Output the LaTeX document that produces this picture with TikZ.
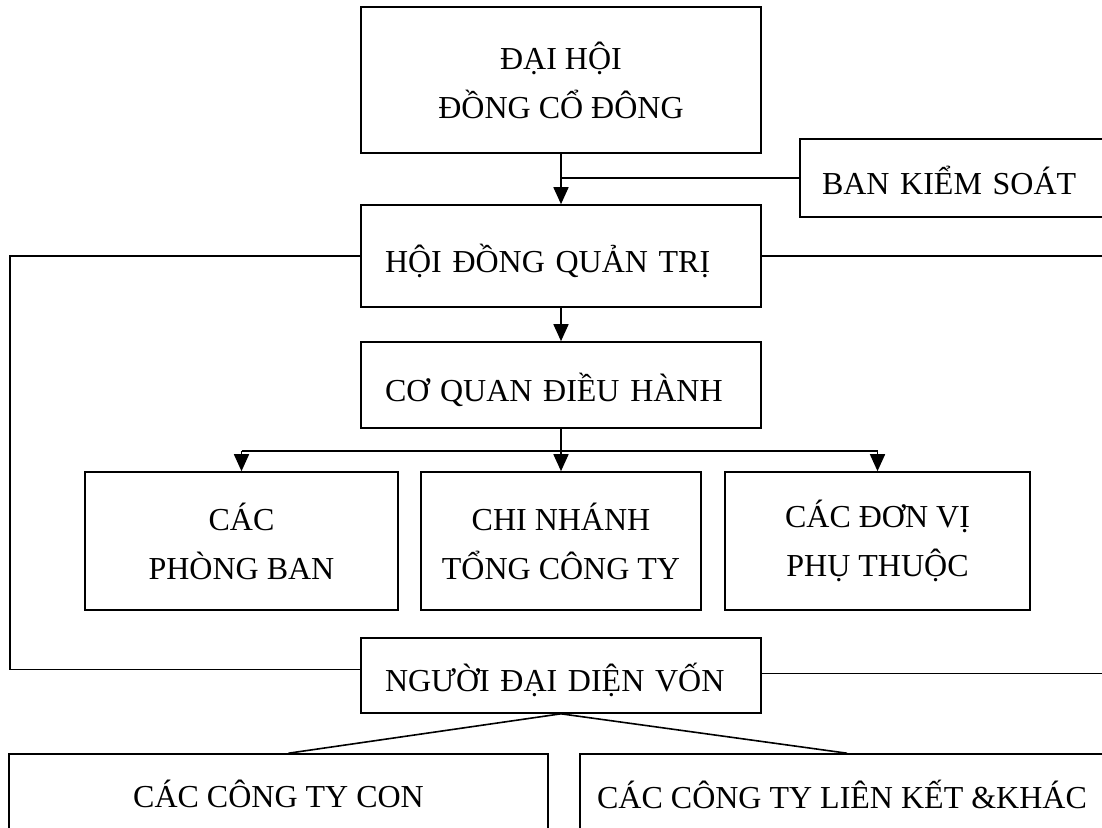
\documentclass[tikz,border=0pt]{standalone}
\usepackage{fontspec}
\setmainfont{Liberation Serif}
\usetikzlibrary{arrows.meta, positioning, calc}

\begin{document}
\begin{tikzpicture}[
    x=1pt, y=-1pt,
    font=\fontsize{32}{49}\selectfont,
    box/.style n args={2}{
        rectangle, draw, line width=1.6pt,
        minimum width=#1, minimum height=#2,
        inner sep=0pt, align=center
    },
    lbox/.style n args={3}{
        box={#1}{#2}, text width=#3, align=left,
        text height=32pt, text depth=0pt
    },
    conn/.style={
        line width=1.6pt, #1
    },
    arr/.style={
        -{Triangle[length=17pt,width=15pt]}, line width=1.6pt, #1
    },
]

\useasboundingbox (0,0) rectangle (1102,827);
\clip (0,0) rectangle (1102,827);

% ============================================================
% Top levels
% ============================================================

\node[box={400pt}{146pt}] (dhdcd) at (561,80) {ĐẠI HỘI\\ĐỒNG CỔ ĐÔNG};
\node[lbox={304pt}{78pt}{260pt}] (bks) at (952,178) {BAN KIỂM SOÁT};
\node[lbox={400pt}{102pt}{352pt}] (hdqt) at (561,256) {HỘI ĐỒNG QUẢN TRỊ};
\node[lbox={400pt}{86pt}{352pt}] (cqdh) at (561,385) {CƠ QUAN ĐIỀU HÀNH};

\draw[arr] (dhdcd) -- (hdqt);
\draw[conn] (bks.west) -- (bks.west -| dhdcd.south);
\draw[arr] (hdqt) -- (cqdh);

% ============================================================
% Units under the executive board
% ============================================================

\node[box={313pt}{138pt}] (pb) at (241.5,541) {CÁC\\PHÒNG BAN};
\node[box={280pt}{138pt}] (cn) at (561,541) {CHI NHÁNH\\TỔNG CÔNG TY};
\node[box={305pt}{138pt}] (dv) at (877.5,541) {CÁC ĐƠN VỊ\\PHỤ THUỘC};

\coordinate (cqbus) at (561,451);
\draw[conn] (cqdh.south) -- (cqbus);
\draw[conn] (pb.north |- cqbus) -- (dv.north |- cqbus);
\foreach \unit in {pb,cn,dv}
    \draw[arr] (\unit.north |- cqbus) -- (\unit.north);

% ============================================================
% Capital representative and companies
% ============================================================

\node[lbox={400pt}{75pt}{352pt}] (ndd) at (561,675.5) {NGƯỜI ĐẠI DIỆN VỐN};
\node[box={539pt}{80pt}] (ctcon) at (278.5,794) {CÁC CÔNG TY CON};
\node[box={524pt}{80pt}] (ctlk) at (842,794) {CÁC CÔNG TY LIÊN KẾT \&KHÁC};

% side rails (board -> representative)
\coordinate (lrail) at (10,0);
\coordinate (rrail) at (1104,0);
\draw[conn] (hdqt.west) -- (hdqt.west -| lrail) |- ([yshift=6pt]ndd.west);
\draw[conn] (hdqt.east) -- (hdqt.east -| rrail);
\draw[conn] ([yshift=2pt]ndd.east) -- ([yshift=2pt]ndd.east -| rrail);

\draw[conn] (ndd.south) -- ([xshift=10pt]ctcon.north);
\draw[conn] (ndd.south) -- ([xshift=5pt]ctlk.north);

\end{tikzpicture}
\end{document}
